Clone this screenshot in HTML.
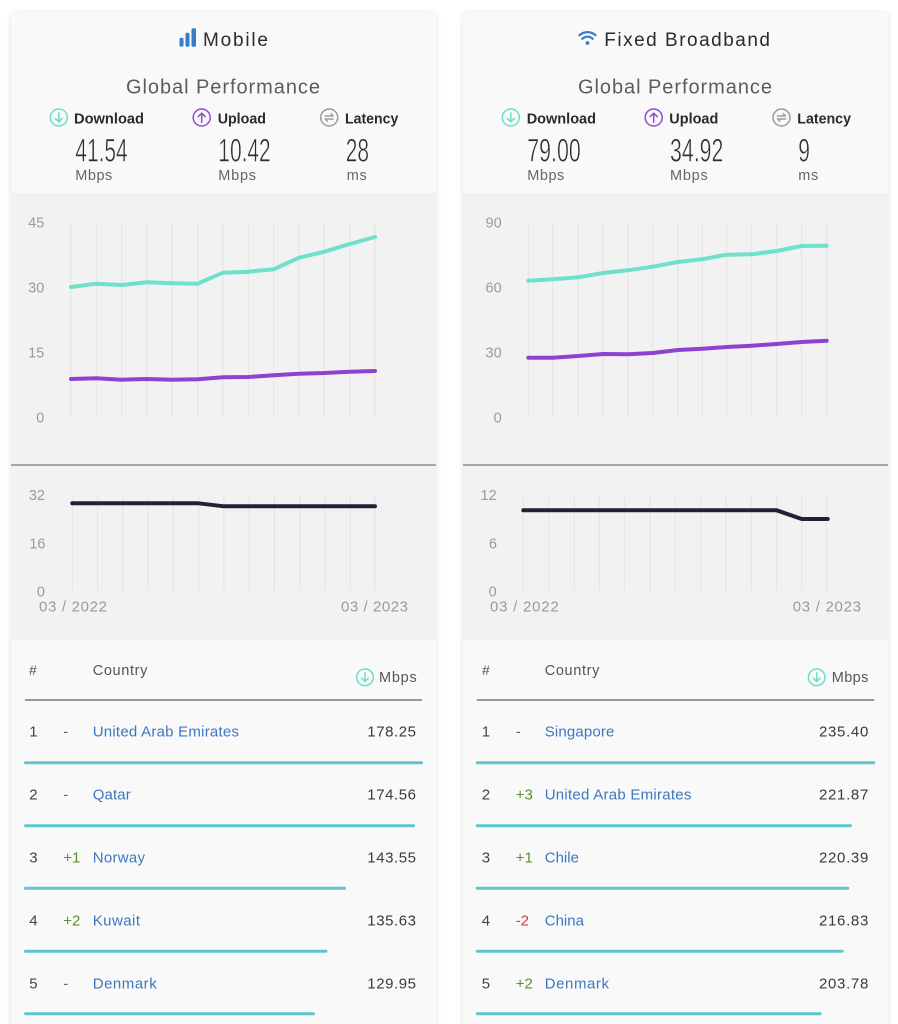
<!DOCTYPE html>
<html><head><meta charset="utf-8"><style>
html,body{margin:0;padding:0;background:#fff;}
svg{display:block;}
text{font-family:"Liberation Sans",sans-serif;}
.big{stroke:#f9f9f9;stroke-width:0.6;fill:#2e2e2e;}
</style></head><body>
<svg width="898" height="1024" viewBox="0 0 898 1024" xmlns="http://www.w3.org/2000/svg">
<defs>
<filter id="sh" x="-5%" y="-5%" width="110%" height="110%">
<feDropShadow dx="0" dy="1" stdDeviation="3" flood-color="#000" flood-opacity="0.13"/>
</filter>
</defs>
<rect width="898" height="1024" fill="#fff"/>

<!-- ============ LEFT CARD ============ -->
<rect x="11" y="12" width="425" height="1030" rx="5" fill="#f9f9f9" filter="url(#sh)"/>
<rect x="11" y="193" width="425" height="447" fill="#f2f2f2"/>
<line x1="11" y1="465" x2="436" y2="465" stroke="#8c8c8c" stroke-width="1.5"/>

<rect x="179.5" y="37.7" width="4" height="9" rx="1.6" fill="#3a7bc8"/>
<rect x="185.5" y="32.7" width="4" height="14" rx="1.6" fill="#3a7bc8"/>
<rect x="191.5" y="28.3" width="4.5" height="18.4" rx="1.6" fill="#3a7bc8"/>
<text x="203" y="46" font-size="19" fill="#2b2b2b" textLength="65" lengthAdjust="spacing">Mobile</text>
<text x="126" y="93.3" font-size="20" fill="#5c5c5c" textLength="194" lengthAdjust="spacing">Global Performance</text>

<circle cx="58.8" cy="117.5" r="8.5" fill="none" stroke="#6fdcc6" stroke-width="1.5"/>
<path d="M58.8 112.8V121.8M55.3 118.4L58.8 121.8L62.3 118.4" fill="none" stroke="#6fdcc6" stroke-width="1.5" stroke-linecap="round" stroke-linejoin="round"/>
<text x="74" y="123.3" font-size="15" font-weight="bold" fill="#2a2a2a" textLength="70" lengthAdjust="spacingAndGlyphs">Download</text>
<circle cx="201.7" cy="117.5" r="8.5" fill="none" stroke="#9548d6" stroke-width="1.5"/>
<path d="M201.7 122.2V113.2M198.2 116.6L201.7 113.2L205.2 116.6" fill="none" stroke="#9548d6" stroke-width="1.5" stroke-linecap="round" stroke-linejoin="round"/>
<text x="217.7" y="123.3" font-size="15" font-weight="bold" fill="#2a2a2a" textLength="48.3" lengthAdjust="spacingAndGlyphs">Upload</text>
<circle cx="329.2" cy="117.5" r="8.5" fill="none" stroke="#9a9aa2" stroke-width="1.5"/>
<path d="M325.2 116H333.2L331 113.8M333.2 119H325.2L327.4 121.2" fill="none" stroke="#9a9aa2" stroke-width="1.4" stroke-linecap="round" stroke-linejoin="round"/>
<text x="345" y="123.3" font-size="15" font-weight="bold" fill="#2a2a2a" textLength="53.3" lengthAdjust="spacingAndGlyphs">Latency</text>

<text class="big" x="75.3" y="161.7" font-size="32.6" textLength="52.4" lengthAdjust="spacingAndGlyphs">41.54</text>
<text class="big" x="218.3" y="161.7" font-size="32.6" textLength="52.4" lengthAdjust="spacingAndGlyphs">10.42</text>
<text class="big" x="345.7" y="161.7" font-size="32.6" textLength="23.3" lengthAdjust="spacingAndGlyphs">28</text>
<text x="75.3" y="180" font-size="14.5" fill="#666" textLength="37" lengthAdjust="spacing">Mbps</text>
<text x="218.3" y="180" font-size="14.5" fill="#666" textLength="37.7" lengthAdjust="spacing">Mbps</text>
<text x="346.7" y="180" font-size="14.5" fill="#666" textLength="20" lengthAdjust="spacing">ms</text>

<g stroke="#e3e3e3" stroke-width="1">
<line x1="71" y1="222" x2="71" y2="417"/><line x1="96.33" y1="222" x2="96.33" y2="417"/><line x1="121.67" y1="222" x2="121.67" y2="417"/><line x1="147" y1="222" x2="147" y2="417"/><line x1="172.33" y1="222" x2="172.33" y2="417"/><line x1="197.67" y1="222" x2="197.67" y2="417"/><line x1="223" y1="222" x2="223" y2="417"/><line x1="248.33" y1="222" x2="248.33" y2="417"/><line x1="273.67" y1="222" x2="273.67" y2="417"/><line x1="299" y1="222" x2="299" y2="417"/><line x1="324.33" y1="222" x2="324.33" y2="417"/><line x1="349.67" y1="222" x2="349.67" y2="417"/><line x1="375" y1="222" x2="375" y2="417"/>
</g>
<g font-size="14.5" fill="#9a9a9a" text-anchor="end">
<text x="44.3" y="227.5">45</text><text x="44.3" y="292.5">30</text><text x="44.3" y="357.5">15</text><text x="44.3" y="422.5">0</text>
</g>
<polyline points="71,287 96.33,283.7 121.67,285 147,282.3 172.33,283.3 197.67,283.7 223,272.7 248.33,271.7 273.67,269.3 299,257.7 324.33,251.7 349.67,244 375,237" fill="none" stroke="#6fe0c9" stroke-width="4" stroke-linejoin="round" stroke-linecap="round"/>
<polyline points="71,379 96.33,378.3 121.67,379.7 147,379 172.33,379.7 197.67,379.3 223,377.3 248.33,377 273.67,375.3 299,373.7 324.33,373 349.67,371.7 375,371" fill="none" stroke="#8d43cf" stroke-width="4" stroke-linejoin="round" stroke-linecap="round"/>

<g stroke="#e3e3e3" stroke-width="1">
<line x1="72.3" y1="495" x2="72.3" y2="591"/><line x1="97.6" y1="495" x2="97.6" y2="591"/><line x1="122.9" y1="495" x2="122.9" y2="591"/><line x1="148.1" y1="495" x2="148.1" y2="591"/><line x1="173.4" y1="495" x2="173.4" y2="591"/><line x1="198.6" y1="495" x2="198.6" y2="591"/><line x1="223.9" y1="495" x2="223.9" y2="591"/><line x1="249.1" y1="495" x2="249.1" y2="591"/><line x1="274.4" y1="495" x2="274.4" y2="591"/><line x1="299.7" y1="495" x2="299.7" y2="591"/><line x1="324.9" y1="495" x2="324.9" y2="591"/><line x1="350.2" y1="495" x2="350.2" y2="591"/><line x1="375" y1="495" x2="375" y2="591"/>
</g>
<g font-size="14.5" fill="#9a9a9a" text-anchor="end">
<text x="45" y="500">32</text><text x="45.5" y="548.3">16</text><text x="45" y="596.7">0</text>
</g>
<polyline points="72.3,503.3 198.6,503.3 223.9,506.3 375,506.3" fill="none" stroke="#1f2236" stroke-width="4" stroke-linejoin="round" stroke-linecap="round"/>
<text x="39" y="611.7" font-size="15" fill="#9a9a9a" textLength="68" lengthAdjust="spacing">03 / 2022</text>
<text x="341" y="611.7" font-size="15" fill="#9a9a9a" textLength="67" lengthAdjust="spacing">03 / 2023</text>

<text x="29" y="675" font-size="14" fill="#555">#</text>
<text x="92.7" y="675" font-size="14.5" fill="#555" textLength="54.7" lengthAdjust="spacing">Country</text>
<circle cx="365" cy="677.3" r="8.3" fill="none" stroke="#6fdcc6" stroke-width="1.5"/>
<path d="M365 672.8V681.5M361.6 678.2L365 681.5L368.4 678.2" fill="none" stroke="#6fdcc6" stroke-width="1.5" stroke-linecap="round" stroke-linejoin="round"/>
<text x="379" y="682" font-size="14.5" fill="#555" textLength="37.7" lengthAdjust="spacing">Mbps</text>
<line x1="25" y1="700" x2="422" y2="700" stroke="#9a9a9e" stroke-width="2"/>

<g font-size="15">
<text x="29.3" y="736.7" fill="#444">1</text>
<text x="63.3" y="736.7" fill="#666">-</text>
<text x="92.7" y="736.7" fill="#3b78c0" textLength="146.3" lengthAdjust="spacing">United Arab Emirates</text>
<text x="416" y="736.7" fill="#3a3a3a" text-anchor="end" textLength="48.7" lengthAdjust="spacing">178.25</text>

<text x="29.3" y="799.7" fill="#444">2</text>
<text x="63.3" y="799.7" fill="#666">-</text>
<text x="92.7" y="799.7" fill="#3b78c0" textLength="38" lengthAdjust="spacing">Qatar</text>
<text x="416" y="799.7" fill="#3a3a3a" text-anchor="end" textLength="48.7" lengthAdjust="spacing">174.56</text>

<text x="29.3" y="862.7" fill="#444">3</text>
<text x="63.3" y="862.7" fill="#5b8f2e">+1</text>
<text x="92.7" y="862.7" fill="#3b78c0" textLength="52.3" lengthAdjust="spacing">Norway</text>
<text x="416" y="862.7" fill="#3a3a3a" text-anchor="end" textLength="48.7" lengthAdjust="spacing">143.55</text>

<text x="29.3" y="925.7" fill="#444">4</text>
<text x="63.3" y="925.7" fill="#5b8f2e">+2</text>
<text x="92.7" y="925.7" fill="#3b78c0" textLength="47.3" lengthAdjust="spacing">Kuwait</text>
<text x="416" y="925.7" fill="#3a3a3a" text-anchor="end" textLength="48.7" lengthAdjust="spacing">135.63</text>

<text x="29.3" y="988.7" fill="#444">5</text>
<text x="63.3" y="988.7" fill="#666">-</text>
<text x="92.7" y="988.7" fill="#3b78c0" textLength="64" lengthAdjust="spacing">Denmark</text>
<text x="416" y="988.7" fill="#3a3a3a" text-anchor="end" textLength="48.7" lengthAdjust="spacing">129.95</text>
</g>
<g stroke="#5ec7cd" stroke-width="3" stroke-linecap="round">
<line x1="25.5" y1="762.7" x2="421.5" y2="762.7"/>
<line x1="25.5" y1="825.7" x2="413.5" y2="825.7"/>
<line x1="25.5" y1="888.3" x2="344.5" y2="888.3"/>
<line x1="25.5" y1="951.3" x2="326" y2="951.3"/>
<line x1="25.5" y1="1013.7" x2="313.5" y2="1013.7"/>
</g>

<!-- ============ RIGHT CARD ============ -->
<rect x="463" y="12" width="425" height="1030" rx="5" fill="#f9f9f9" filter="url(#sh)"/>
<rect x="463" y="193" width="425" height="447" fill="#f2f2f2"/>
<line x1="463" y1="465" x2="888" y2="465" stroke="#8c8c8c" stroke-width="1.5"/>

<g fill="none" stroke="#3a7bc8" stroke-width="2.2" stroke-linecap="round">
<path d="M579.5 35.2A12 12 0 0 1 595.5 35.2"/>
<path d="M582.3 38.8A7.5 7.5 0 0 1 592.7 38.8"/>
</g>
<circle cx="587.5" cy="43" r="1.9" fill="#3a7bc8"/>
<text x="604.3" y="46" font-size="19" fill="#2b2b2b" textLength="165.7" lengthAdjust="spacing">Fixed Broadband</text>
<text x="578" y="93.3" font-size="20" fill="#5c5c5c" textLength="194" lengthAdjust="spacing">Global Performance</text>

<circle cx="510.8" cy="117.5" r="8.5" fill="none" stroke="#6fdcc6" stroke-width="1.5"/>
<path d="M510.8 112.8V121.8M507.3 118.4L510.8 121.8L514.3 118.4" fill="none" stroke="#6fdcc6" stroke-width="1.5" stroke-linecap="round" stroke-linejoin="round"/>
<text x="526.7" y="123.3" font-size="15" font-weight="bold" fill="#2a2a2a" textLength="69.3" lengthAdjust="spacingAndGlyphs">Download</text>
<circle cx="653.7" cy="117.5" r="8.5" fill="none" stroke="#9548d6" stroke-width="1.5"/>
<path d="M653.7 122.2V113.2M650.2 116.6L653.7 113.2L657.2 116.6" fill="none" stroke="#9548d6" stroke-width="1.5" stroke-linecap="round" stroke-linejoin="round"/>
<text x="669.3" y="123.3" font-size="15" font-weight="bold" fill="#2a2a2a" textLength="49" lengthAdjust="spacingAndGlyphs">Upload</text>
<circle cx="781.5" cy="117.5" r="8.5" fill="none" stroke="#9a9aa2" stroke-width="1.5"/>
<path d="M777.5 116H785.5L783.3 113.8M785.5 119H777.5L779.7 121.2" fill="none" stroke="#9a9aa2" stroke-width="1.4" stroke-linecap="round" stroke-linejoin="round"/>
<text x="797.3" y="123.3" font-size="15" font-weight="bold" fill="#2a2a2a" textLength="53.7" lengthAdjust="spacingAndGlyphs">Latency</text>

<text class="big" x="527.3" y="161.7" font-size="32.6" textLength="53.4" lengthAdjust="spacingAndGlyphs">79.00</text>
<text class="big" x="670" y="161.7" font-size="32.6" textLength="53.3" lengthAdjust="spacingAndGlyphs">34.92</text>
<text class="big" x="798.3" y="161.7" font-size="32.6" textLength="11.7" lengthAdjust="spacingAndGlyphs">9</text>
<text x="527.3" y="180" font-size="14.5" fill="#666" textLength="37" lengthAdjust="spacing">Mbps</text>
<text x="670" y="180" font-size="14.5" fill="#666" textLength="37.7" lengthAdjust="spacing">Mbps</text>
<text x="798.3" y="180" font-size="14.5" fill="#666" textLength="20" lengthAdjust="spacing">ms</text>

<g stroke="#e3e3e3" stroke-width="1">
<line x1="528.3" y1="222" x2="528.3" y2="417"/><line x1="552.7" y1="222" x2="552.7" y2="417"/><line x1="578.3" y1="222" x2="578.3" y2="417"/><line x1="603" y1="222" x2="603" y2="417"/><line x1="627.7" y1="222" x2="627.7" y2="417"/><line x1="652.7" y1="222" x2="652.7" y2="417"/><line x1="678" y1="222" x2="678" y2="417"/><line x1="702.3" y1="222" x2="702.3" y2="417"/><line x1="726.7" y1="222" x2="726.7" y2="417"/><line x1="751.7" y1="222" x2="751.7" y2="417"/><line x1="776.7" y1="222" x2="776.7" y2="417"/><line x1="801.7" y1="222" x2="801.7" y2="417"/><line x1="826.7" y1="222" x2="826.7" y2="417"/>
</g>
<g font-size="14.5" fill="#9a9a9a" text-anchor="end">
<text x="501.7" y="227.5">90</text><text x="501.7" y="292.5">60</text><text x="501.7" y="357.5">30</text><text x="501.7" y="422.5">0</text>
</g>
<polyline points="528.3,280.7 552.7,279.3 578.3,277.3 603,273 627.7,270.3 652.7,266.7 678,262 702.3,259.3 726.7,254.7 751.7,254.3 776.7,251 801.7,246 826.7,245.7" fill="none" stroke="#6fe0c9" stroke-width="4" stroke-linejoin="round" stroke-linecap="round"/>
<polyline points="528.3,357.7 552.7,357.7 578.3,356 603,354 627.7,354.3 652.7,353 678,350 702.3,348.7 726.7,347 751.7,345.7 776.7,344 801.7,342 826.7,340.7" fill="none" stroke="#8d43cf" stroke-width="4" stroke-linejoin="round" stroke-linecap="round"/>

<g stroke="#e3e3e3" stroke-width="1">
<line x1="523.3" y1="495" x2="523.3" y2="591"/><line x1="548.7" y1="495" x2="548.7" y2="591"/><line x1="574.3" y1="495" x2="574.3" y2="591"/><line x1="599.3" y1="495" x2="599.3" y2="591"/><line x1="624.3" y1="495" x2="624.3" y2="591"/><line x1="650" y1="495" x2="650" y2="591"/><line x1="675.3" y1="495" x2="675.3" y2="591"/><line x1="700.7" y1="495" x2="700.7" y2="591"/><line x1="726" y1="495" x2="726" y2="591"/><line x1="751.3" y1="495" x2="751.3" y2="591"/><line x1="776.7" y1="495" x2="776.7" y2="591"/><line x1="801.7" y1="495" x2="801.7" y2="591"/><line x1="826.7" y1="495" x2="826.7" y2="591"/>
</g>
<g font-size="14.5" fill="#9a9a9a" text-anchor="end">
<text x="496.7" y="500">12</text><text x="497" y="548.3">6</text><text x="496.7" y="596.7">0</text>
</g>
<polyline points="523.3,510.3 776.7,510.3 801.7,519 827.7,519" fill="none" stroke="#1f2236" stroke-width="4" stroke-linejoin="round" stroke-linecap="round"/>
<text x="490" y="611.7" font-size="15" fill="#9a9a9a" textLength="68.7" lengthAdjust="spacing">03 / 2022</text>
<text x="792.7" y="611.7" font-size="15" fill="#9a9a9a" textLength="68.3" lengthAdjust="spacing">03 / 2023</text>

<text x="482" y="675" font-size="14" fill="#555">#</text>
<text x="544.7" y="675" font-size="14.5" fill="#555" textLength="54.7" lengthAdjust="spacing">Country</text>
<circle cx="816.7" cy="677.3" r="8.3" fill="none" stroke="#6fdcc6" stroke-width="1.5"/>
<path d="M816.7 672.8V681.5M813.3 678.2L816.7 681.5L820.1 678.2" fill="none" stroke="#6fdcc6" stroke-width="1.5" stroke-linecap="round" stroke-linejoin="round"/>
<text x="831.7" y="682" font-size="14.5" fill="#555" textLength="36.7" lengthAdjust="spacing">Mbps</text>
<line x1="476.7" y1="700" x2="874.3" y2="700" stroke="#9a9a9e" stroke-width="2"/>

<g font-size="15">
<text x="481.7" y="736.7" fill="#444">1</text>
<text x="515.7" y="736.7" fill="#666">-</text>
<text x="544.7" y="736.7" fill="#3b78c0" textLength="69.7" lengthAdjust="spacing">Singapore</text>
<text x="868.3" y="736.7" fill="#3a3a3a" text-anchor="end" textLength="49.3" lengthAdjust="spacing">235.40</text>

<text x="481.7" y="799.7" fill="#444">2</text>
<text x="515.7" y="799.7" fill="#5b8f2e">+3</text>
<text x="544.7" y="799.7" fill="#3b78c0" textLength="146.7" lengthAdjust="spacing">United Arab Emirates</text>
<text x="868.3" y="799.7" fill="#3a3a3a" text-anchor="end" textLength="49.3" lengthAdjust="spacing">221.87</text>

<text x="481.7" y="862.7" fill="#444">3</text>
<text x="515.7" y="862.7" fill="#5b8f2e">+1</text>
<text x="544.7" y="862.7" fill="#3b78c0" textLength="34.3" lengthAdjust="spacing">Chile</text>
<text x="868.3" y="862.7" fill="#3a3a3a" text-anchor="end" textLength="49.3" lengthAdjust="spacing">220.39</text>

<text x="481.7" y="925.7" fill="#444">4</text>
<text x="515.7" y="925.7" fill="#d63c4a">-2</text>
<text x="544.7" y="925.7" fill="#3b78c0" textLength="39.3" lengthAdjust="spacing">China</text>
<text x="868.3" y="925.7" fill="#3a3a3a" text-anchor="end" textLength="49.3" lengthAdjust="spacing">216.83</text>

<text x="481.7" y="988.7" fill="#444">5</text>
<text x="515.7" y="988.7" fill="#5b8f2e">+2</text>
<text x="544.7" y="988.7" fill="#3b78c0" textLength="64.3" lengthAdjust="spacing">Denmark</text>
<text x="868.3" y="988.7" fill="#3a3a3a" text-anchor="end" textLength="49.3" lengthAdjust="spacing">203.78</text>
</g>
<g stroke="#5ec7cd" stroke-width="3" stroke-linecap="round">
<line x1="477.2" y1="762.7" x2="873.8" y2="762.7"/>
<line x1="477.2" y1="825.7" x2="850.5" y2="825.7"/>
<line x1="477.2" y1="888.3" x2="847.8" y2="888.3"/>
<line x1="477.2" y1="951.3" x2="842.2" y2="951.3"/>
<line x1="477.2" y1="1013.7" x2="820.2" y2="1013.7"/>
</g>
</svg>
</body></html>
